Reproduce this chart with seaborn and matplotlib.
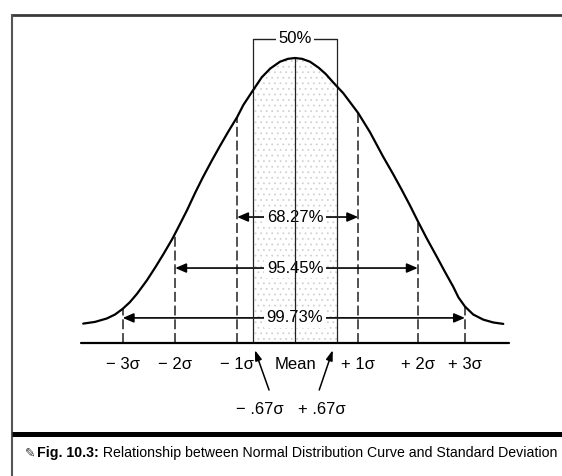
import matplotlib
matplotlib.use("Agg")
import matplotlib.pyplot as plt
import seaborn as sns
from matplotlib.patches import Rectangle, Polygon

# ---------------- data ----------------
curve_x = [-3.59, -3.39, -3.19, -3.05, -2.92, -2.80, -2.68, -2.51, -2.36, -2.23,
           -2.08, -1.98, -1.83, -1.69, -1.56, -1.41, -1.27, -1.13, -0.98, -0.876,
           -0.73, -0.565, -0.42, -0.254, -0.12, 0.0, 0.12, 0.254, 0.40, 0.52,
           0.64, 0.82, 1.07, 1.27, 1.49, 1.67, 1.81, 1.95, 2.08, 2.23,
           2.41, 2.54, 2.68, 2.77, 2.88, 3.02, 3.19, 3.36, 3.53]
curve_y = [0.068, 0.074, 0.086, 0.100, 0.120, 0.143, 0.172, 0.220, 0.268, 0.312,
           0.365, 0.405, 0.466, 0.528, 0.582, 0.640, 0.692, 0.742, 0.793, 0.835,
           0.881, 0.932, 0.963, 0.987, 0.997, 1.0, 0.997, 0.987, 0.966, 0.944,
           0.916, 0.876, 0.807, 0.740, 0.655, 0.590, 0.537, 0.482, 0.428, 0.368,
           0.300, 0.250, 0.198, 0.160, 0.128, 0.100, 0.082, 0.072, 0.067]

sd_pos = [-2.92, -2.03, -0.98, 1.07, 2.08, 2.88]
sd_top = [0.120, 0.385, 0.793, 0.807, 0.428, 0.128]
sd_labels = ["\u2212 3\u03c3", "\u2212 2\u03c3", "\u2212 1\u03c3", "+ 1\u03c3", "+ 2\u03c3", "+ 3\u03c3"]

mean_pos = 0.0
mean_label = "Mean"

q_pos = [-0.71, 0.71]
q_labels = ["\u2212 .67\u03c3", "+ .67\u03c3"]
q_label_x = [-0.59, 0.46]
q_arrow_tail_x = [-0.44, 0.41]
q_arrow_tip_x = [-0.68, 0.64]
half_label = "50%"
half_y = 1.067

pct_labels = ["68.27%", "95.45%", "99.73%"]
pct_y = [0.442, 0.263, 0.088]
pct_left = [-0.98, -2.03, -2.92]
pct_right = [1.07, 2.08, 2.88]

axis_span = [-3.63, 3.63]

caption_bold = "Fig. 10.3:"
caption_rest = " Relationship between Normal Distribution Curve and Standard Deviation"

# ---------------- style ----------------
sns.set_theme(style="white")
plt.rcParams["font.family"] = ["Liberation Sans", "DejaVu Sans"]
plt.rcParams["text.color"] = "black"
plt.rcParams["hatch.linewidth"] = 0.6

FS = 12

fig = plt.figure(figsize=(5.62, 4.76), dpi=100)
ax = fig.add_axes([0, 0, 1, 1])
ax.set_xlim(-5.0, 4.525)
ax.set_ylim(-0.4667, 1.2035)
ax.axis("off")

# stipple in the middle 50% region, clipped under the curve
poly = Polygon(list(zip(curve_x, curve_y)) + [(curve_x[-1], 0), (curve_x[0], 0)],
               closed=True, facecolor="none", edgecolor="none")
ax.add_patch(poly)
rect = Rectangle((q_pos[0], 0), q_pos[1] - q_pos[0], 1.05, hatch="...",
                 facecolor="none", edgecolor="#d2d2d2", linewidth=0, zorder=0.5)
ax.add_patch(rect)
rect.set_clip_path(poly)

# curve
sns.lineplot(x=curve_x, y=curve_y, color="black", linewidth=1.6, sort=False,
             ax=ax, zorder=5)

# base axis
ax.plot(axis_span, [0, 0], color="black", linewidth=1.6, zorder=5)

# dashed sigma lines
ax.vlines(sd_pos, 0, sd_top, colors="#222222", linewidth=1.1,
          linestyles=(0, (6.5, 2.5)), zorder=2)

# mean line and quartile lines
ax.vlines([mean_pos], 0, max(curve_y), colors="#222222", linewidth=0.9, zorder=4)
ax.vlines(q_pos, 0, half_y, colors="#222222", linewidth=0.9, zorder=4)
ax.plot(q_pos, [half_y, half_y], color="#222222", linewidth=1.0, zorder=4)
ax.text(mean_pos, half_y, half_label, ha="center", va="center", fontsize=FS,
        zorder=6, bbox=dict(facecolor="white", edgecolor="none", pad=1.5))

# percentage arrows
for lab, y, l, r in zip(pct_labels, pct_y, pct_left, pct_right):
    ax.annotate("", xy=(r, y), xytext=(l, y),
                arrowprops=dict(arrowstyle="<|-|>,head_length=0.65,head_width=0.28",
                                color="black", lw=1.2, mutation_scale=10,
                                shrinkA=0, shrinkB=0), zorder=2)
    ax.text(mean_pos, y, lab, ha="center", va="center", fontsize=FS, zorder=3,
            bbox=dict(facecolor="white", edgecolor="none", pad=2.0))

# tick labels
for p, lab in zip(sd_pos, sd_labels):
    ax.text(p, -0.077, lab, ha="center", va="center", fontsize=FS)
ax.text(mean_pos, -0.077, mean_label, ha="center", va="center", fontsize=FS)

# .67 sigma labels with pointers
for lx, lab, tx, hx in zip(q_label_x, q_labels, q_arrow_tail_x, q_arrow_tip_x):
    ax.text(lx, -0.232, lab, ha="center", va="center", fontsize=FS)
    ax.annotate("", xy=(hx, -0.025), xytext=(tx, -0.165),
                arrowprops=dict(arrowstyle="-|>,head_length=0.6,head_width=0.2",
                                color="black", lw=1.1, mutation_scale=10,
                                shrinkA=0, shrinkB=0))

# frame
ax.plot([-4.797, 4.6], [1.151, 1.151], color="#3a3a3a", linewidth=2.0,
        clip_on=False, solid_capstyle="butt")
ax.plot([-4.797, -4.797], [1.155, -0.47], color="#555555", linewidth=1.5,
        clip_on=False, solid_capstyle="butt")
ax.plot([-4.797, 4.6], [-0.319, -0.319], color="black", linewidth=3.6,
        clip_on=False, solid_capstyle="butt")

# caption
ax.text(-4.49, -0.386, "\u270e", ha="center", va="center", fontsize=9,
        family=["DejaVu Sans"], color="#333333")
t1 = ax.text(-4.373, -0.386, caption_bold, ha="left", va="center", fontsize=10.2,
             fontweight="bold")
ax.annotate(caption_rest, xy=(1, 0.5), xycoords=t1, ha="left", va="center",
            fontsize=10.2)

fig.savefig("out.png", dpi=100)
